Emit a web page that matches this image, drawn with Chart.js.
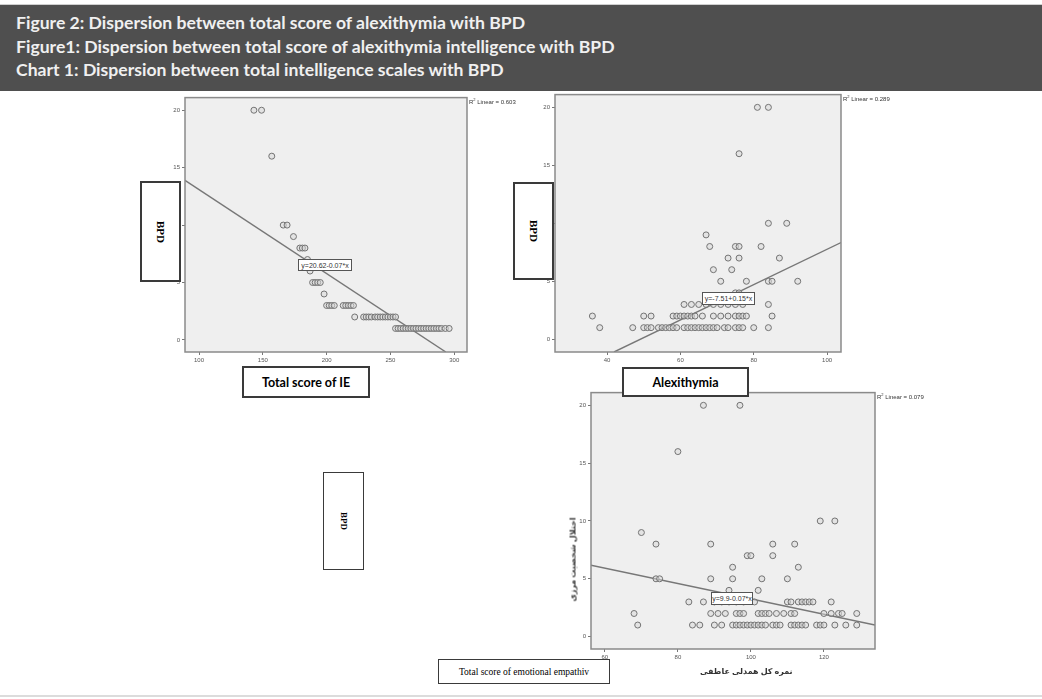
<!DOCTYPE html>
<html><head><meta charset="utf-8">
<script src="https://cdn.jsdelivr.net/npm/chart.js@4.4.0/dist/chart.umd.min.js"></script>
<style>
html,body{margin:0;padding:0;background:#fff;width:1042px;height:699px;overflow:hidden;position:relative;font-family:Lato,'Open Sans',sans-serif;}
#hdr{position:absolute;left:0;top:4px;width:1042px;height:86px;background:#4f4f4f;border-top:1px solid #cfcfcf;}
#hdr div{position:absolute;left:16px;color:#f0f0f0;font-weight:700;font-size:17.6px;white-space:nowrap;line-height:20px;}
#foot{position:absolute;left:0;top:695px;width:1042px;height:2px;background:#dcdcdc;}
canvas{position:absolute;}
.box{position:absolute;background:#fff;border:2px solid #3a3a3a;box-sizing:border-box;display:flex;align-items:center;justify-content:center;z-index:5;white-space:nowrap;}
.rot span{transform:rotate(90deg);display:block;white-space:nowrap;}
.serif{font-family:'Liberation Serif','DejaVu Serif',serif;}
.bold{font-weight:700;}
.eq{position:absolute;background:#fff;border:1px solid #555;box-sizing:border-box;font-family:'Liberation Sans',Arial,sans-serif;font-size:7px;color:#333;display:flex;align-items:center;justify-content:center;z-index:4;white-space:nowrap;}
.r2{position:absolute;font-family:'Liberation Sans',Arial,sans-serif;font-size:6px;color:#333;white-space:nowrap;z-index:4;}
.ar{position:absolute;font-family:'Noto Sans','DejaVu Sans',sans-serif;font-size:8px;font-weight:700;color:#333;white-space:nowrap;z-index:4;}
</style></head>
<body>
<div id="hdr">
  <div style="top:8px">Figure 2: Dispersion between total score of alexithymia with BPD</div>
  <div style="top:32px">Figure1: Dispersion between total score of alexithymia intelligence with BPD</div>
  <div style="top:55px">Chart 1: Dispersion between total intelligence scales with BPD</div>
</div>
<div id="foot"></div>

<canvas id="c1" width="317" height="285" style="left:155px;top:92px"></canvas>
<canvas id="c2" width="321" height="288" style="left:525px;top:89px"></canvas>
<canvas id="c3" width="319" height="287" style="left:561px;top:387px"></canvas>

<div class="box rot serif bold" style="left:140px;top:181px;width:41px;height:101px;font-size:11px"><span>BPD</span></div>
<div class="box bold" style="left:242px;top:366px;width:128px;height:32px;font-size:12.5px">Total score of IE</div>
<div class="box rot serif bold" style="left:513px;top:182px;width:41px;height:98px;font-size:11px"><span>BPD</span></div>
<div class="box bold" style="left:622px;top:367px;width:127px;height:30px;font-size:12.5px">Alexithymia</div>
<div class="box rot serif bold" style="left:323px;top:472px;width:41px;height:98px;font-size:9px;border-width:1.5px"><span>BPD</span></div>
<div class="box serif" style="left:438px;top:659px;width:172px;height:25px;font-size:9.5px;border-width:1.5px">Total score of emotional empathiv</div>

<div class="eq" style="left:298px;top:259px;width:54px;height:12px">y=20.62-0.07*x</div>
<div class="eq" style="left:702px;top:292px;width:53px;height:13px">y=-7.51+0.15*x</div>
<div class="eq" style="left:711px;top:592px;width:42px;height:13px">y=9.9-0.07*x</div>

<div class="r2" style="left:469px;top:97px">R<sup style="font-size:4px">2</sup> Linear = 0.603</div>
<div class="r2" style="left:843px;top:94px">R<sup style="font-size:4px">2</sup> Linear = 0.289</div>
<div class="r2" style="left:877px;top:392px">R<sup style="font-size:4px">2</sup> Linear = 0.079</div>

<div class="ar" dir="rtl" style="left:552px;top:532px;transform:rotate(-90deg);width:40px;text-align:center">اختلال شخصیت مرزی</div>
<div class="ar" dir="rtl" style="left:700px;top:665px">نمره کل همدلی عاطفی</div>

<script>
// ---- Plot 1: Total score of IE vs BPD ----
const ieScore = [143,149, 157, 166,169, 174, 179,181,183, 185, 187, 189,191,193,195, 198,
  200,202,204,206,213,215,217,219,221,
  222,229,231,233,235,238,240,242,244,246,248,250,252,254,
  254,256,258,260,262,264,266,268,270,272,274,276,278,280,282,284,286,288,290,293,296];
const ieBPD = [20,20, 16, 10,10, 9, 8,8,8, 7, 6, 5,5,5,5, 4,
  3,3,3,3,3,3,3,3,3,
  2,2,2,2,2,2,2,2,2,2,2,2,2,2,
  1,1,1,1,1,1,1,1,1,1,1,1,1,1,1,1,1,1,1,1,1];
const ieFitX = [89, 293.4];
const ieFitY = [13.9, -1.05];
const ieXTicks = [100,150,200,250,300];

// ---- Plot 2: Alexithymia vs BPD ----
const alexScore = [81,84, 76, 84,89, 67, 68,75,76,82, 73,76,87, 69,74, 71,78,84,85,92, 75,76,
  61,63,65,67,69,71,73,75,77,84,
  36,50,52,58,59,60,61,62,63,64,66,69,71,73,75,76,77,78,85,
  38,47,50,51,52,54,55,56,57,58,59,61,62,63,64,65,66,67,68,69,70,72,73,75,76,77,80,84];
const alexBPD = [20,20, 16, 10,10, 9, 8,8,8,8, 7,7,7, 6,6, 5,5,5,5,5, 4,4,
  3,3,3,3,3,3,3,3,3,3,
  2,2,2,2,2,2,2,2,2,2,2,2,2,2,2,2,2,2,2,
  1,1,1,1,1,1,1,1,1,1,1,1,1,1,1,1,1,1,1,1,1,1,1,1,1,1,1,1];
const alexFitX = [41.9, 103.8];
const alexFitY = [-1.1, 8.34];
const alexXTicks = [40,60,80,100];

// ---- Plot 3: Emotional empathy vs BPD ----
const empScore = [87,97, 80, 119,123, 70, 74,89,106,112, 99,100,106, 95,113, 74,75,89,95,103,110, 94,102,
  83,87,90,92,94,96,98,101,110,111,113,114,115,116,117,122,
  68,89,91,93,96,97,98,102,103,104,105,107,109,111,112,120,122,124,125,129,
  69,84,86,90,92,95,96,97,98,99,100,101,102,103,104,106,107,108,111,112,113,114,115,118,119,120,123,126,129];
const empBPD = [20,20, 16, 10,10, 9, 8,8,8,8, 7,7,7, 6,6, 5,5,5,5,5,5, 4,4,
  3,3,3,3,3,3,3,3,3,3,3,3,3,3,3,3,
  2,2,2,2,2,2,2,2,2,2,2,2,2,2,2,2,2,2,2,2,
  1,1,1,1,1,1,1,1,1,1,1,1,1,1,1,1,1,1,1,1,1,1,1,1,1,1,1,1,1];
const empFitX = [56.2, 134];
const empFitY = [6.17, 1.0];
const empXTicks = [60,80,100,120];

const bpdTicks = [0,5,10,15,20];

const framePlugin = {
  id:'frame',
  beforeDatasetsDraw(chart){
    const a = chart.chartArea, c = chart.ctx;
    c.save(); c.fillStyle = '#efefef'; c.fillRect(a.left, a.top, a.right-a.left, a.bottom-a.top); c.restore();
  },
  afterDatasetsDraw(chart){
    const a = chart.chartArea, c = chart.ctx;
    c.save(); c.strokeStyle = '#8a8a8a'; c.lineWidth = 1.5;
    c.strokeRect(a.left, a.top, a.right-a.left, a.bottom-a.top); c.restore();
  }
};

function makeChart(id, xs, ys, fx, fy, xTicks, xr, yr){
  const pts = xs.map((x,i)=>({x:x, y:ys[i]}));
  const fit = fx.map((x,i)=>({x:x, y:fy[i]}));
  return new Chart(document.getElementById(id), {
    type:'scatter',
    data:{datasets:[
      {data:pts, pointRadius:3, pointBackgroundColor:'rgba(215,215,215,0.5)', pointBorderColor:'#747474', pointBorderWidth:1, showLine:false},
      {data:fit, showLine:true, pointRadius:0, borderColor:'#777', borderWidth:1.4, fill:false}
    ]},
    options:{
      responsive:false, animation:false, events:[],
      layout:{padding:{top:5,right:5,left:0,bottom:0}},
      plugins:{legend:{display:false}, tooltip:{enabled:false}},
      scales:{
        x:{type:'linear', min:xr[0], max:xr[1],
          afterBuildTicks(s){ s.ticks = xTicks.map(v=>({value:v})); },
          afterFit(s){ s.height = 25; },
          grid:{drawOnChartArea:false, drawTicks:true, tickLength:3, color:'#777'},
          border:{display:false},
          ticks:{font:{size:6, family:'Liberation Sans'}, color:'#555', padding:2, maxRotation:0, autoSkip:false}},
        y:{type:'linear', min:yr[0], max:yr[1],
          afterBuildTicks(s){ s.ticks = bpdTicks.map(v=>({value:v})); },
          afterFit(s){ s.width = 30; },
          grid:{drawOnChartArea:false, drawTicks:true, tickLength:3, color:'#777'},
          border:{display:false},
          ticks:{font:{size:6, family:'Liberation Sans'}, color:'#555', padding:2, autoSkip:false}}
      }
    },
    plugins:[framePlugin]
  });
}

makeChart('c1', ieScore, ieBPD, ieFitX, ieFitY, ieXTicks, [89,310], [-1.05,21.1]);
makeChart('c2', alexScore, alexBPD, alexFitX, alexFitY, alexXTicks, [25.8,103.8], [-1.1,21.1]);
makeChart('c3', empScore, empBPD, empFitX, empFitY, empXTicks, [56.2,134], [-1.07,21.1]);
</script>
</body></html>
